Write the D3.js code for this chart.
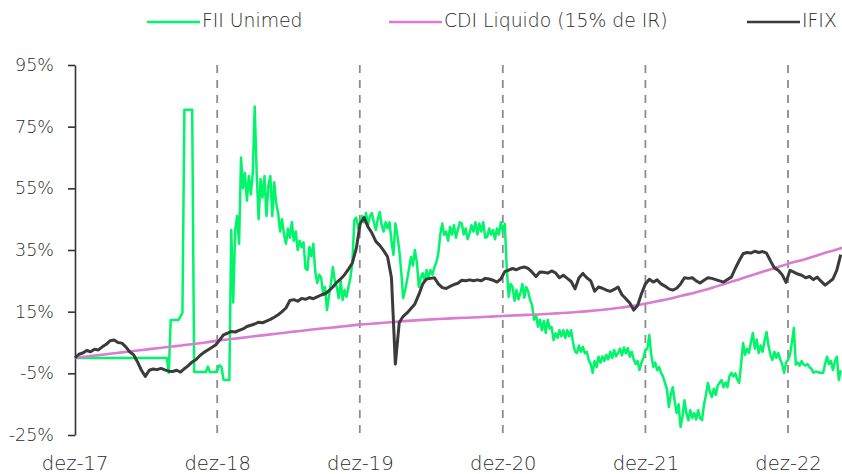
<!DOCTYPE html>
<html>
<head>
<meta charset="utf-8">
<script src="https://cdn.jsdelivr.net/npm/d3@7"></script>
<style>
  body { margin: 0; background: #fff; }
  svg { display: block; font-family: "DejaVu Sans", sans-serif; font-weight: 300; }
</style>
</head>
<body>
<svg width="842" height="474"></svg>
<script>
// series names + colours
const seriesNames = ["FII Unimed", "CDI Liquido (15% de IR)", "IFIX"];
const seriesColors = ["#00f56a", "#d87dcf", "#3b3b3b"];

// x labels (end of december)
const xYears = [2017, 2018, 2019, 2020, 2021, 2022];
const xLabels = ["dez-17", "dez-18", "dez-19", "dez-20", "dez-21", "dez-22"];
const yTicks = [-25, -5, 15, 35, 55, 75, 95];

// fii unimed, one value every 5 days from 29/12/2017 (accumulated %)
const fiiStepDays = 5;
const fiiUnimed = [
  0, 0, 0, 0, 0, 0, 0, 0, 0, 0,
  0, 0, 0, 0, 0, 0, 0, 0, 0, 0,
  0, 0, 0, 0, 0, 0, 0, 0, 0, 0,
  0, 0, 0, 0, 0, 0, 0, 0, 0, 0,
  0, 0, 0, 0, 0, 0, 0, 0, -4.8, 12.3,
  12.3, 12.3, 12.3, 12.3, 13.5, 14.6, 80.5, 80.5, 80.5, 80.5,
  80.5, -4.6, -4.6, -4.6, -4.6, -4.6, -4.6, -4.6, -2.8, -4.6,
  -4.6, -4.6, -4.6, -3.8, -2.4, -3.0, -7.0, -7.2, -7.2, -7.2,
  41.5, 18, 41.5, 46, 37, 65, 55, 60, 51, 59,
  53, 60, 81.5, 60, 45, 58, 52, 59, 46, 56,
  59, 46, 57, 50, 47, 41, 45, 40, 37, 42,
  39, 44, 38, 41, 35, 38, 36, 37.5, 29, 28.5,
  36, 33, 37, 28, 24.3, 27, 26, 21, 23, 15.5,
  20, 24, 29.5, 25, 23, 19.4, 25, 18.8, 22, 19.8,
  23, 26, 31, 44.7, 45.5, 42, 43.6, 46, 44, 47,
  43, 46, 47, 44, 41.5, 45, 47.3, 43, 41, 44,
  42, 44, 38, 33.4, 43.6, 40, 35, 28, 19.4, 22,
  25.3, 29, 32.7, 30, 35, 31, 23, 26, 27.5, 25,
  28.5, 26, 28.5, 27, 29.5, 31, 34, 40, 43.6, 39.9,
  41, 38, 42.5, 40, 43, 39, 41.5, 44, 43.6, 40,
  42, 38.5, 40.5, 43, 41, 44, 40, 43.6, 41, 44,
  39, 39.2, 42, 40, 41.5, 38.5, 42, 40, 44, 41,
  43.5, 29.5, 19.8, 24, 23, 18.5, 22, 19, 21, 24,
  19.5, 23, 21.5, 18.8, 17, 12.4, 14, 10.1, 12.4, 9,
  12, 8.1, 12.4, 9.5, 10, 5.8, 8, 6.5, 9, 7,
  9, 6.5, 9, 7, 9, 4.8, 2, 1.6, 4, 2,
  3.6, 1.5, 2, -0.7, -2, -4.8, -1, -3, 0.4, -1.5,
  0.5, -1, 1, -0.5, 2, 0, 2.6, 0.5, 1.6, 3,
  0.8, 3.4, 1.5, 3.2, 0.4, 2, -0.5, -2, -1, -3.9,
  -1.5, 0, 2.6, 3, 7.4, 1, -2.9, -1.5, -4, -3,
  -4.8, -6, -8.1, -10, -15.9, -12, -9.5, -14, -17.9, -15,
  -22.4, -19, -13.7, -18, -20.2, -17, -19.5, -17.9, -20, -17,
  -19.5, -20.2, -15, -12, -8.1, -11, -12.7, -10, -12, -9,
  -8, -7.2, -9.5, -8, -9.5, -6, -4.8, -6, -5, -7,
  -8.1, -2, 4.8, 1, 3, 1.6, 5, 8.1, 3, 6,
  1.6, 4, 2, 5.5, 8.4, 4, 1, -0.7, 2, 0,
  1.6, -0.5, -2, -4.8, -1.5, -0.7, 1, 5, 9.7, -2.2,
  -1.5, -2.5, -1, -2.2, -2.5, -2, -3, -3.5, -4.8, -4.5,
  -4.5, -4.8, -4.8, -4.8, -2, 0.4, -2, -1, -3.9, -1,
  0.4, -7.2, -4
];
// ifix, one value every 10 days from 29/12/2017 (accumulated %)
const ifixStepDays = 10;
const ifix = [
  0, 1.2, 1.6, 2.4, 2, 2.8, 2.6, 3.6, 4.4, 5.6,
  5.8, 5, 4.8, 3.6, 2, 1, -1.3, -4, -6, -4,
  -3.6, -3.8, -3.4, -3.9, -4.3, -4.4, -4, -4.6, -3.5, -2.5,
  -1.3, -0.5, 0.8, 1.8, 2.6, 3.4, 4.2, 5.8, 7.5, 8,
  8.6, 8.4, 8.9, 9.4, 10.2, 10.6, 11, 11.6, 11.4, 11.9,
  12.5, 13.2, 14, 15, 16.2, 18.6, 18.9, 18.4, 19.3, 19,
  19.6, 19.2, 19.8, 20.4, 20.8, 21.8, 23, 24.5, 25.6, 27,
  28.8, 30.8, 35.5, 43.6, 45.5, 42.5, 40.5, 37.8, 36.5, 34.8,
  32.8, 26, -2, 11.5, 13.5, 14.6, 16, 17.5, 20.5, 24,
  25.6, 25.8, 26, 24, 22.8, 22.5, 23.2, 23.8, 24.2, 25.2,
  25, 25.3, 25, 25.3, 25, 25.8, 25.6, 25.2, 24.6, 25.6,
  28, 28.5, 29, 28.6, 29.2, 29.5, 29, 27.8, 26.4, 27.9,
  27.8, 27.5, 28.2, 27.6, 26, 26.8, 25.8, 24.8, 22.4, 26,
  27.4, 26, 25, 21.6, 23, 22.6, 22, 21.6, 22.2, 23,
  20.5, 19.2, 17.8, 15.5, 17, 20.8, 24, 25.5, 24.6, 25.3,
  24, 23.3, 22.4, 22, 22.6, 24, 26, 25.8, 26, 25,
  24.3, 25.2, 26, 25.8, 25.4, 25, 24.6, 25.4, 26.2, 29,
  31.5, 33.8, 34.2, 34, 34.6, 34.2, 34.5, 34, 31.5, 29.2,
  28.4, 27, 24.5, 28.4, 27.8, 27.2, 26.8, 26, 26.4, 25.4,
  26.2, 24.8, 23.6, 24.6, 25.6, 28.5, 33.5
];
// cdi liquido, monthly from 28/12/2017
const cdi = [
  0,
  0.45, 0.9, 1.35, 1.8, 2.25, 2.7, 3.15, 3.6, 4.05, 4.5, 5.0, 5.6,
  6.05, 6.5, 6.95, 7.4, 7.85, 8.3, 8.75, 9.2, 9.6, 10.0, 10.4, 10.8,
  11.1, 11.4, 11.7, 12.0, 12.25, 12.5, 12.7, 12.9, 13.05, 13.2, 13.4, 13.6,
  13.8, 13.95, 14.1, 14.3, 14.55, 14.8, 15.1, 15.45, 15.85, 16.35, 16.9, 17.6,
  18.4, 19.2, 20.1, 21.0, 22.0, 23.2, 24.4, 25.6, 26.9, 28.1, 29.3, 30.5,
  31.6, 32.7, 33.9, 35.0, 36.2
];

const svg = d3.select("svg");
const width = +svg.attr("width");
const height = +svg.attr("height");
svg.append("rect").attr("width", width).attr("height", height).attr("fill", "#fff");

const plotLeft = 75, plotTop = 65, plotBottom = 435;
const start = new Date(2017, 11, 29);
const tickDates = xYears.map(yr => new Date(yr, 11, 28));
const fiiDates = fiiUnimed.map((_, i) => d3.timeDay.offset(start, i * fiiStepDays));
const ifixDates = ifix.map((_, i) => d3.timeDay.offset(start, i * ifixStepDays));
const cdiDates = cdi.map((_, i) => d3.timeMonth.offset(new Date(2017, 11, 28), i));

const x = d3.scaleTime().domain([start, tickDates[5]]).range([plotLeft, 788]);
const y = d3.scaleLinear().domain([-25, 95]).range([plotBottom, plotTop]);

// dashed year lines
svg.append("g")
  .selectAll("line")
  .data(tickDates.slice(1))
  .join("line")
    .attr("x1", d => x(d)).attr("x2", d => x(d))
    .attr("y1", plotTop).attr("y2", plotBottom)
    .attr("stroke", "#8c8c8c")
    .attr("stroke-width", 1.8)
    .attr("stroke-dasharray", "8,7");

// y axis
const yAxis = svg.append("g")
  .attr("transform", `translate(${plotLeft},0)`)
  .call(d3.axisLeft(y).tickValues(yTicks).tickSize(7).tickSizeOuter(0).tickPadding(14).tickFormat(d => d + "%"));
yAxis.select(".domain").attr("stroke", "#333").attr("stroke-width", 1.6);
yAxis.selectAll(".tick line").attr("stroke", "#333").attr("stroke-width", 1.6);
yAxis.selectAll("text")
  .attr("fill", "#2b2b2b")
  .style("font-size", "17.5px")
  .style("font-family", "DejaVu Sans, sans-serif");

// x labels
const xAxis = svg.append("g")
  .attr("transform", `translate(0,${plotBottom})`)
  .call(d3.axisBottom(x).tickValues(tickDates).tickSize(0).tickPadding(21).tickFormat((d, i) => xLabels[i]));
xAxis.select(".domain").remove();
xAxis.selectAll("text")
  .attr("fill", "#2b2b2b")
  .style("font-size", "19.5px")
  .style("font-family", "DejaVu Sans, sans-serif");

// lines
const line = d3.line().x(d => x(d[0])).y(d => y(d[1]));
const fiiData = fiiUnimed.map((v, i) => [fiiDates[i], v]);
const ifixData = ifix.map((v, i) => [ifixDates[i], v]);
const cdiData = cdi.map((v, i) => [cdiDates[i], v]);

svg.append("path").datum(fiiData)
  .attr("d", line)
  .attr("fill", "none")
  .attr("stroke", seriesColors[0])
  .attr("stroke-width", 2.5)
  .attr("stroke-linejoin", "round");

svg.append("path").datum(cdiData)
  .attr("d", line.curve(d3.curveMonotoneX))
  .attr("fill", "none")
  .attr("stroke", seriesColors[1])
  .attr("stroke-width", 2.6);
line.curve(d3.curveLinear);

svg.append("path").datum(ifixData)
  .attr("d", line)
  .attr("fill", "none")
  .attr("stroke", seriesColors[2])
  .attr("stroke-width", 3)
  .attr("stroke-linejoin", "round");

// legend
const legendX = [147, 389, 747];
const legend = svg.append("g")
  .selectAll("g")
  .data(seriesNames)
  .join("g")
    .attr("transform", (d, i) => `translate(${legendX[i]},22)`);
legend.append("line")
  .attr("x1", 0).attr("x2", 53)
  .attr("stroke", (d, i) => seriesColors[i])
  .attr("stroke-width", 2.7);
legend.append("text")
  .attr("x", 55)
  .attr("y", 5)
  .attr("fill", "#2b2b2b")
  .style("font-size", "18.8px")
  .text(d => d);
</script>
</body>
</html>
